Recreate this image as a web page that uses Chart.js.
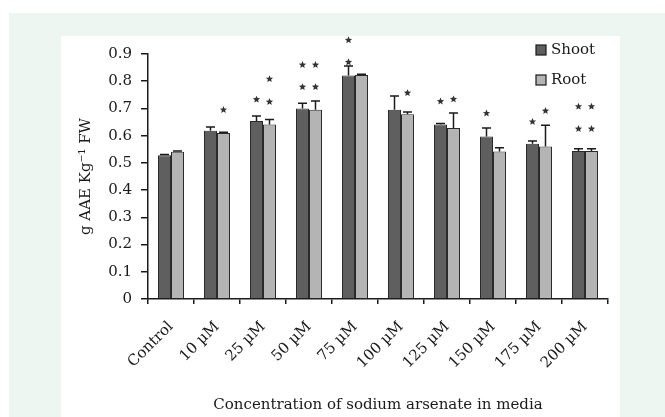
<!DOCTYPE html>
<html>
<head>
<meta charset="utf-8">
<script src="https://cdn.jsdelivr.net/npm/chart.js@4"></script>
<style>
  html, body { margin: 0; padding: 0; background: #fff; }
  body { width: 665px; height: 417px; position: relative; overflow: hidden; }
  #panel { position: absolute; left: 9px; top: 13px; width: 656px; height: 404px; background: #eef6f1; }
  #box { position: absolute; left: 61px; top: 36px; width: 559px; height: 381px; background: #fff; }
</style>
</head>
<body>
<div id="panel"></div>
<div id="box"><canvas id="grafica" width="559" height="381"></canvas></div>
<script>
// ==============================
// Datos
// ==============================
const categorias = ["Control", "10 µM", "25 µM", "50 µM", "75 µM", "100 µM", "125 µM", "150 µM", "175 µM", "200 µM"];
const shoot = [0.528, 0.618, 0.654, 0.700, 0.821, 0.695, 0.641, 0.597, 0.570, 0.544];
const root = [0.541, 0.610, 0.641, 0.695, 0.823, 0.679, 0.628, 0.542, 0.560, 0.544];
const shootErr = [0.003, 0.014, 0.018, 0.019, 0.035, 0.051, 0.004, 0.031, 0.010, 0.008];
const rootErr = [0.003, 0.003, 0.018, 0.032, 0.003, 0.008, 0.055, 0.014, 0.078, 0.008];
// niveles de los asteriscos de significancia
const shootStars = [[], [], [0.733], [0.779, 0.86], [0.87, 0.951], [], [0.726], [0.682], [0.651], [0.625, 0.707]];
const rootStars = [[], [0.695], [0.724, 0.808], [0.779, 0.86], [], [0.757], [0.734], [], [0.691], [0.625, 0.707]];
const yTicks = [0, 0.1, 0.2, 0.3, 0.4, 0.5, 0.6, 0.7, 0.8, 0.9];

const FUENTE = "'DejaVu Serif', serif";
const TINTA = "#1a1a1a";

// ==============================
// Error bars + asteriscos
// ==============================
function estrella(ctx, x, y, r) {
  ctx.beginPath();
  for (let k = 0; k < 10; k++) {
    const rad = k % 2 === 0 ? r : r * 0.45;
    const a = -Math.PI / 2 + k * Math.PI / 5;
    const px = x + rad * Math.cos(a), py = y + rad * Math.sin(a);
    k === 0 ? ctx.moveTo(px, py) : ctx.lineTo(px, py);
  }
  ctx.closePath();
  ctx.fill();
}

const extras = {
  id: "extras",
  afterDatasetsDraw(chart) {
    const ctx = chart.ctx;
    const y = chart.scales.y;
    const errs = [shootErr, rootErr];
    const stars = [shootStars, rootStars];
    ctx.save();
    chart.data.datasets.forEach((ds, d) => {
      chart.getDatasetMeta(d).data.forEach((bar, i) => {
        const top = y.getPixelForValue(ds.data[i] + errs[d][i]);
        ctx.strokeStyle = TINTA;
        ctx.lineWidth = 1.5;
        ctx.beginPath();
        ctx.moveTo(bar.x, bar.y);
        ctx.lineTo(bar.x, top);
        ctx.moveTo(bar.x - 4.5, top);
        ctx.lineTo(bar.x + 4.5, top);
        ctx.stroke();
        ctx.fillStyle = "#333";
        stars[d][i].forEach(v => estrella(ctx, bar.x, y.getPixelForValue(v), 3.8));
      });
    });
    ctx.restore();
  }
};

// leyenda dentro del area del grafico, arriba a la derecha
const leyenda = {
  id: "leyenda",
  afterDraw(chart) {
    const ctx = chart.ctx;
    const x0 = chart.chartArea.right - 72;
    ctx.save();
    ctx.font = "15px " + FUENTE;
    ctx.textBaseline = "middle";
    chart.data.datasets.forEach((ds, d) => {
      const yy = 14 + d * 30;
      ctx.fillStyle = ds.backgroundColor;
      ctx.fillRect(x0, yy - 5, 10, 10);
      ctx.strokeStyle = TINTA;
      ctx.lineWidth = 1.2;
      ctx.strokeRect(x0, yy - 5, 10, 10);
      ctx.fillStyle = TINTA;
      ctx.fillText(ds.label, x0 + 15, yy);
    });
    ctx.restore();
  }
};

// ==============================
// Grafica
// ==============================
const ctx = document.getElementById("grafica").getContext("2d");
const grafica = new Chart(ctx, {
  type: "bar",
  data: {
    labels: categorias,
    datasets: [
      { label: "Shoot", data: shoot, backgroundColor: "#5f5f5f", borderColor: "#2a2a2a", borderWidth: 1 },
      { label: "Root", data: root, backgroundColor: "#b4b4b4", borderColor: "#2a2a2a", borderWidth: 1 }
    ]
  },
  options: {
    responsive: false,
    animation: false,
    categoryPercentage: 0.565,
    barPercentage: 1,
    layout: { padding: { top: 16, right: 12, left: 0, bottom: 0 } },
    plugins: { legend: { display: false }, tooltip: { enabled: false } },
    scales: {
      x: {
        grid: { display: true, drawOnChartArea: false, tickLength: 5, color: TINTA, lineWidth: 1.5 },
        border: { display: true, color: TINTA, width: 1.5 },
        ticks: { color: TINTA, font: { family: FUENTE, size: 15 }, minRotation: 45, maxRotation: 45, padding: 14 },
        title: { display: true, text: "Concentration of sodium arsenate in media", color: TINTA,
                 font: { family: FUENTE, size: 15 }, padding: { top: 0, bottom: 3 } },
        afterFit: s => { s.height = 118; }
      },
      y: {
        min: 0,
        max: 0.9,
        afterBuildTicks: s => { s.ticks = yTicks.map(v => ({ value: v })); },
        grid: { display: true, drawOnChartArea: false, tickLength: 7, color: TINTA, lineWidth: 1.5 },
        border: { display: true, color: TINTA, width: 1.5 },
        ticks: { color: TINTA, font: { family: FUENTE, size: 15 }, padding: 9,
                 callback: v => v === 0 ? "0" : v.toFixed(1) },
        title: { display: true, text: "g AAE Kg⁻¹ FW", color: TINTA,
                 font: { family: FUENTE, size: 15 }, padding: { top: 16, bottom: 0 } },
        afterFit: s => { s.width = 87; }
      }
    }
  },
  plugins: [extras, leyenda]
});
</script>
</body>
</html>
